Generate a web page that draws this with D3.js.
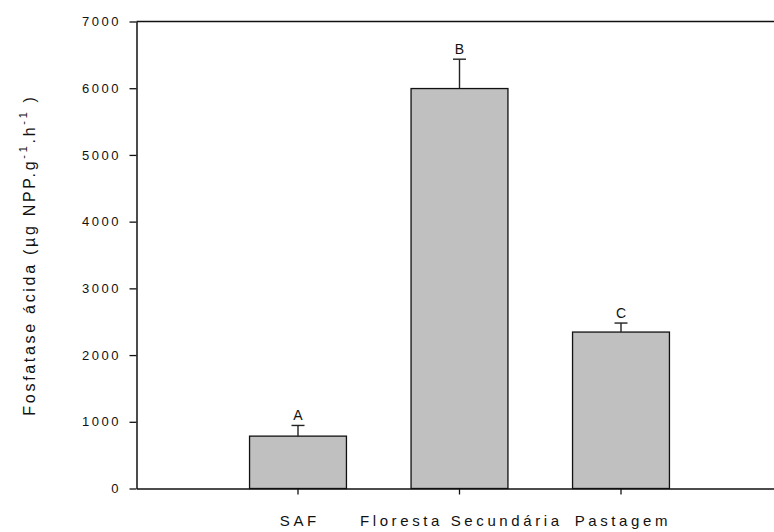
<!DOCTYPE html>
<html>
<head>
<meta charset="utf-8">
<script src="https://cdn.jsdelivr.net/npm/d3@7"></script>
<style>
  body { margin: 0; background: #fff; }
  svg { display: block; }
  text { font-family: "Liberation Sans", Arial, sans-serif; fill: #111; }
</style>
</head>
<body>
<svg id="chart"></svg>
<script>
const width = 774
const height = 532

// data
const categories = ['SAF', 'Floresta Secundária', 'Pastagem']
const means = [785, 5995, 2345]
const errors = [160, 440, 135]
const letters = ['A', 'B', 'C']
const yTicks = [0, 1000, 2000, 3000, 4000, 5000, 6000, 7000]

const plotLeft = 136.5
const plotTop = 21.5
const plotBottom = 488.5
// the axis runs past the right edge of the picture
const plotRight = 782.5

const svg = d3.select('#chart').attr('width', width).attr('height', height)

const x = d3.scaleBand()
  .domain(categories)
  .range([plotLeft, plotRight])
  .paddingInner(0.4)
  .paddingOuter(0.7)

const y = d3.scaleLinear()
  .domain([0, 7000])
  .range([plotBottom, plotTop])

// bars
svg.append('g')
  .selectAll('rect')
  .data(categories)
  .enter().append('rect')
  .attr('x', d => x(d))
  .attr('y', (d, i) => y(means[i]))
  .attr('width', x.bandwidth())
  .attr('height', (d, i) => y(0) - y(means[i]))
  .attr('fill', '#c0c0c0')
  .attr('stroke', '#111')
  .attr('stroke-width', 1.3)

// error bars (upper only)
const eb = svg.append('g').attr('stroke', '#222').attr('stroke-width', 1.4)
categories.forEach((c, i) => {
  const cx = x(c) + x.bandwidth() / 2
  eb.append('line')
    .attr('x1', cx).attr('x2', cx)
    .attr('y1', y(means[i])).attr('y2', y(means[i] + errors[i]))
  eb.append('line')
    .attr('x1', cx - 6.5).attr('x2', cx + 6.5)
    .attr('y1', y(means[i] + errors[i])).attr('y2', y(means[i] + errors[i]))
})

// significance letters
svg.append('g')
  .selectAll('text')
  .data(letters)
  .enter().append('text')
  .attr('x', (d, i) => x(categories[i]) + x.bandwidth() / 2)
  .attr('y', (d, i) => y(means[i] + errors[i]) - 5)
  .attr('text-anchor', 'middle')
  .style('font-size', '14px')
  .text(d => d)

// y axis
const yAxis = svg.append('g')
  .attr('transform', `translate(${plotLeft},0)`)
  .call(d3.axisLeft(y).tickValues(yTicks).tickFormat(d3.format('d')).tickSize(7).tickSizeOuter(0).tickPadding(11))
yAxis.select('.domain').attr('stroke', '#111').attr('stroke-width', 1.5)
yAxis.selectAll('.tick line').attr('stroke', '#111').attr('stroke-width', 1.3)
yAxis.selectAll('.tick text')
  .attr('fill', '#111')
  .attr('dx', '2.5px')
  .style('font-size', '13px')
  .style('letter-spacing', '2.5px')
  .style('font-family', '"Liberation Sans", Arial, sans-serif')

// x axis
const xAxis = svg.append('g')
  .attr('transform', `translate(0,${plotBottom})`)
  .call(d3.axisBottom(x).tickSize(6).tickSizeOuter(0).tickPadding(21))
xAxis.select('.domain').attr('stroke', '#111').attr('stroke-width', 1.5)
xAxis.selectAll('.tick line').attr('stroke', '#111').attr('stroke-width', 1.3)
xAxis.selectAll('.tick text')
  .attr('fill', '#111')
  .attr('dx', '1.8px')
  .style('font-size', '15px')
  .style('letter-spacing', '3.6px')
  .style('font-family', '"Liberation Sans", Arial, sans-serif')

// top frame line
svg.append('line')
  .attr('x1', plotLeft).attr('x2', width)
  .attr('y1', y(7000)).attr('y2', y(7000))
  .attr('stroke', '#111').attr('stroke-width', 1.5)

// y axis title
const title = svg.append('text')
  .attr('transform', `translate(35,${(plotTop + plotBottom) / 2}) rotate(-90)`)
  .attr('text-anchor', 'middle')
  .style('font-size', '16px')
  .style('letter-spacing', '2.7px')
title.append('tspan').text('Fosfatase ácida (µg NPP.g')
title.append('tspan').attr('dy', -8).style('font-size', '11px').text('-1')
title.append('tspan').attr('dy', 8).text('.h')
title.append('tspan').attr('dy', -8).style('font-size', '11px').text('-1')
title.append('tspan').attr('dy', 8).text(' )')
</script>
</body>
</html>
